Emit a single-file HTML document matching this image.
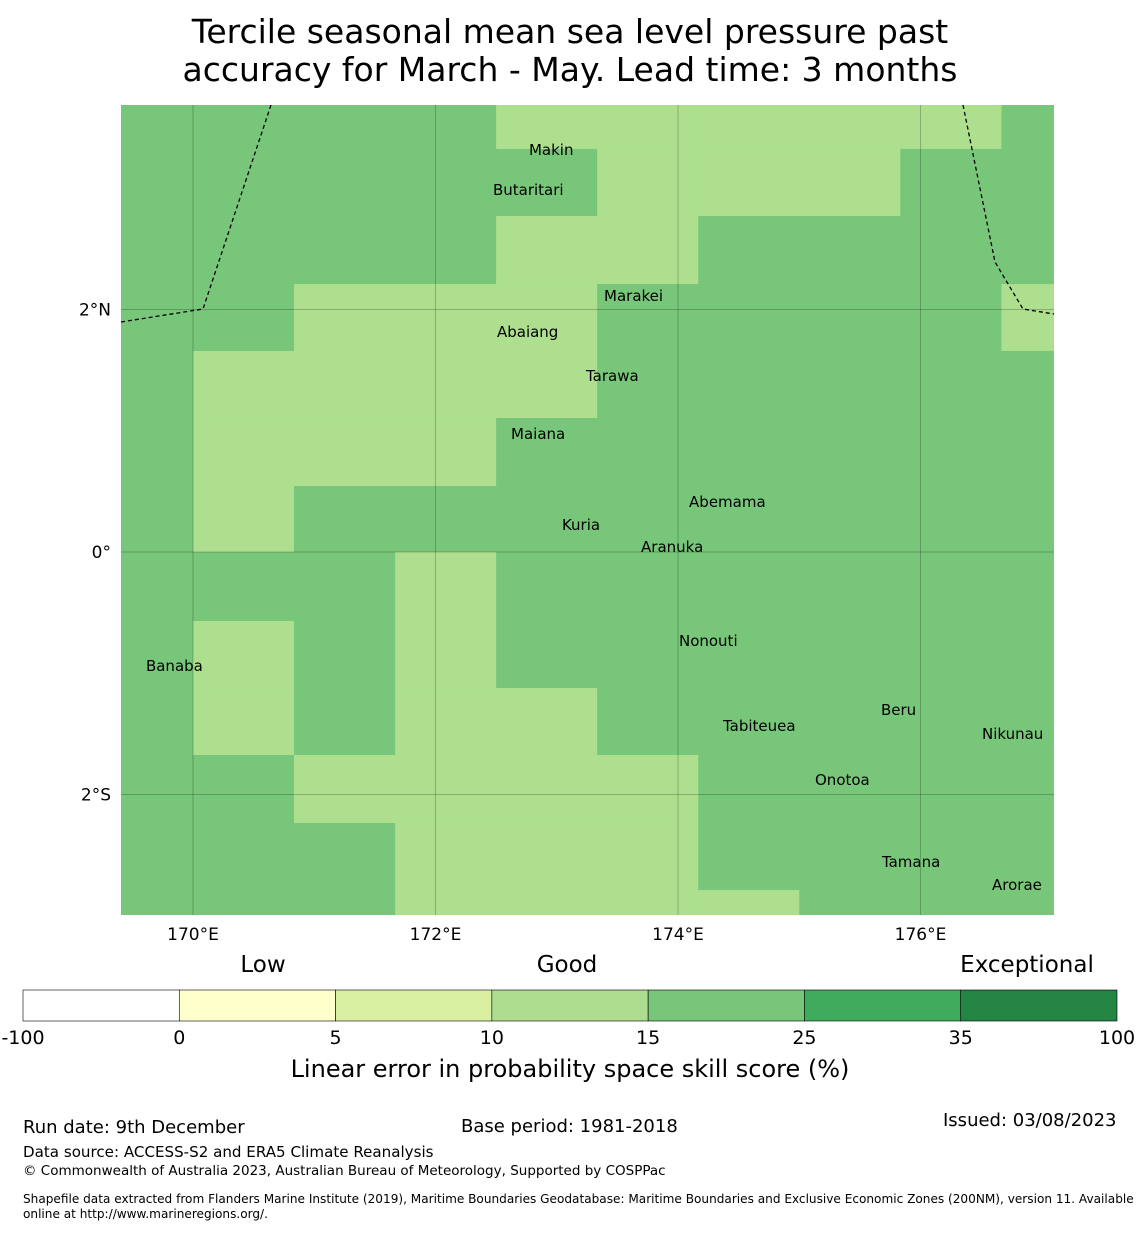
<!DOCTYPE html>
<html><head><meta charset="utf-8"><style>
body{margin:0;background:#fff;font-family:"DejaVu Sans","Liberation Sans",sans-serif}
</style></head><body>
<svg width="1140" height="1230" xmlns="http://www.w3.org/2000/svg" font-family="DejaVu Sans, Liberation Sans, sans-serif">
<text x="570" y="43" font-size="33" text-anchor="middle">Tercile seasonal mean sea level pressure past</text>
<text x="570" y="81" font-size="33" text-anchor="middle">accuracy for March - May. Lead time: 3 months</text>
<g id="cells"></g>
<g id="grid"></g>
<g fill="none" stroke="#000" stroke-width="1.3" stroke-dasharray="4,3">
<polyline points="121,322 203,309 271,105"/>
<polyline points="963,105 995,262 1023,309 1054,314"/>
</g>
<g id="islands" font-size="15"></g>
<g id="axes" font-size="17"></g>
<text x="263" y="972" font-size="23" text-anchor="middle">Low</text>
<text x="567" y="972" font-size="23" text-anchor="middle">Good</text>
<text x="1027" y="972" font-size="23" text-anchor="middle">Exceptional</text>
<g id="cbar" font-size="19"></g>
<text x="570" y="1077" font-size="24" text-anchor="middle">Linear error in probability space skill score (%)</text>
<g font-size="18">
<text x="23" y="1133">Run date: 9th December</text>
<text x="461" y="1132">Base period: 1981-2018</text>
<text x="943" y="1126">Issued: 03/08/2023</text>
<text x="23" y="1157" font-size="15.1">Data source: ACCESS-S2 and ERA5 Climate Reanalysis</text>
<text x="23" y="1175" font-size="13.5">© Commonwealth of Australia 2023, Australian Bureau of Meteorology, Supported by COSPPac</text>
<text x="23" y="1203" font-size="12.1">Shapefile data extracted from Flanders Marine Institute (2019), Maritime Boundaries Geodatabase: Maritime Boundaries and Exclusive Economic Zones (200NM), version 11. Available</text>
<text x="23" y="1218" font-size="12.1">online at http://www.marineregions.org/.</text>
</g>
</svg>
<script>
// grid rows (north to south), L = 10-15 class, D = 15-25 class
const gridRows = [
"DDDDLLLLLD","DDDDDLLLDD","DDDDLLDDDD","DDLLLDDDDL","DLLLLDDDDD","DLLLDDDDDD","DLDDDDDDDD",
"DDDLDDDDDD","DLDLDDDDDD","DLDLLDDDDD","DDLLLLDDDD","DDDLLLDDDD","DDDLLLLDDD"];
const lonEdges=[169.4,170.0,170.833,171.667,172.5,173.333,174.167,175.0,175.833,176.667,177.11];
const latEdges=[3.687,3.324,2.771,2.21,1.658,1.105,0.544,0,-0.569,-1.122,-1.674,-2.235,-2.788,-2.99];
const lonTicks=[170,172,174,176];
const lonLabels=["170°E","172°E","174°E","176°E"];
const latTicks=[2,0,-2];
const latLabels=["2°N","0°","2°S"];
const cbarBounds=["-100","0","5","10","15","25","35","100"];
const cbarColors=["#ffffff","#ffffcc","#d9f0a3","#addd8e","#78c679","#41ab5d","#238443"];
const islandNames=["Makin","Butaritari","Marakei","Abaiang","Tarawa","Maiana","Abemama","Kuria","Aranuka","Banaba","Nonouti","Tabiteuea","Beru","Nikunau","Onotoa","Tamana","Arorae"];
const islandLon=[172.771,172.474,173.390,172.507,173.241,172.623,174.091,173.043,173.695,169.612,174.008,174.371,175.674,176.507,175.130,175.682,176.590];
const islandLat=[3.315,2.986,2.111,1.814,1.452,0.973,0.412,0.223,0.041,-0.940,-0.734,-1.435,-1.303,-1.501,-1.880,-2.557,-2.746];
const colors={L:"#addf8e",D:"#78c679"};
const X0=121,X1=1054,Y0=105,Y1=915;
const sx=lon=>193+(lon-170)*121.25;
const sy=lat=>552-lat*121.25;
const cx=v=>Math.max(X0,Math.min(X1,sx(v)));
const cy=v=>Math.max(Y0,Math.min(Y1,sy(v)));
const NS="http://www.w3.org/2000/svg";
function mk(t,a,p){const e=document.createElementNS(NS,t);for(const k in a)e.setAttribute(k,a[k]);p.appendChild(e);return e;}
const cells=document.getElementById('cells');
gridRows.forEach((row,r)=>{[...row].forEach((v,c)=>{
 const x=cx(lonEdges[c]),x2=cx(lonEdges[c+1]),y=cy(latEdges[r]),y2=cy(latEdges[r+1]);
 const e=mk('rect',{x:x,y:y,width:Math.min(x2-x+0.5,X1-x),height:Math.min(y2-y+0.5,Y1-y),fill:colors[v]},cells);
 
 
});});
const g=document.getElementById('grid'),ax=document.getElementById('axes');
lonTicks.forEach((t,i)=>{
 const l=mk('line',{x1:sx(t),x2:sx(t),y1:Y0,y2:Y1,stroke:"#000","stroke-opacity":0.22,"stroke-width":1},g);
 
 
 const tx=mk('text',{x:sx(t),y:940,"text-anchor":"middle"},ax);tx.textContent=lonLabels[i];
 
 
});
latTicks.forEach((t,i)=>{
 const l=mk('line',{x1:X0,x2:X1,y1:sy(t),y2:sy(t),stroke:"#000","stroke-opacity":0.22,"stroke-width":1},g);
 
 
 const tx=mk('text',{x:111,y:sy(t)+6,"text-anchor":"end"},ax);tx.textContent=latLabels[i];
 
 
});
const isl=document.getElementById('islands');
islandNames.forEach((n,i)=>{
 const tx=mk('text',{x:sx(islandLon[i]),y:sy(islandLat[i])+5},isl);tx.textContent=n;
 
 
});
const cb=document.getElementById('cbar');
const bx0=23,bx1=1117,bw=(bx1-bx0)/cbarColors.length;
cbarColors.forEach((c,i)=>{
 const e=mk('rect',{x:bx0+i*bw,y:990,width:bw,height:31,fill:c,stroke:"#000","stroke-width":0.6},cb);
 
 
});
cbarBounds.forEach((b,i)=>{
 const tx=mk('text',{x:bx0+i*bw,y:1044,"text-anchor":"middle"},cb);tx.textContent=b;
 
 
});
</script>
</body></html>
